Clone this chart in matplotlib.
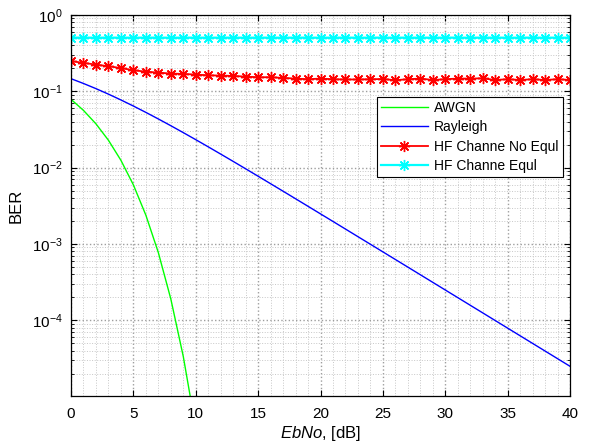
import matplotlib
matplotlib.use("Agg")
import matplotlib.pyplot as plt
from matplotlib.ticker import LogLocator, MultipleLocator, NullFormatter

plt.rcParams['font.family'] = ['Liberation Sans', 'DejaVu Sans']
plt.rcParams['mathtext.fontset'] = 'custom'
plt.rcParams['mathtext.rm'] = 'Liberation Sans'
plt.rcParams['mathtext.it'] = 'Liberation Sans:italic'
plt.rcParams['mathtext.default'] = 'rm'

# Eb/No axis in dB
ebno_db = list(range(0, 41))

# BPSK over AWGN
ebno_awgn = list(range(0, 11))
ber_awgn = [7.865e-2, 5.628e-2, 3.751e-2, 2.288e-2, 1.250e-2, 5.954e-3,
            2.388e-3, 7.727e-4, 1.909e-4, 3.363e-5, 3.872e-6]

# BPSK over flat Rayleigh fading
ber_rayleigh = [0.14645, 0.12673, 0.10849, 0.09191, 0.07714, 0.06418, 0.05300,
                0.04347, 0.03546, 0.02878, 0.02327, 0.01875, 0.01506, 0.01208,
                0.009664, 0.007722, 0.006163, 0.004915, 0.003916, 0.003118,
                0.002481, 0.001974, 0.001570, 0.001248, 0.0009923, 0.0007887,
                0.0006268, 0.0004981, 0.0003958, 0.0003145, 0.0002498,
                0.0001985, 0.0001577, 0.0001253, 0.0000995, 0.00007904,
                0.00006279, 0.00004987, 0.00003962, 0.00003147, 0.00002500]

# HF channel, no equalisation
ber_hf_noeq = [0.249, 0.236, 0.224, 0.213, 0.202, 0.189, 0.181, 0.176, 0.171,
               0.169, 0.166, 0.162, 0.161, 0.159, 0.156, 0.153, 0.153, 0.150,
               0.147, 0.144, 0.147, 0.144, 0.143, 0.143, 0.144, 0.145, 0.140,
               0.144, 0.147, 0.141, 0.144, 0.147, 0.147, 0.148, 0.141, 0.144,
               0.141, 0.144, 0.141, 0.144, 0.141]

# HF channel, with equalisation
ber_hf_eq = [0.505, 0.505, 0.504, 0.505, 0.505, 0.504, 0.505, 0.505, 0.504,
             0.505, 0.505, 0.504, 0.505, 0.505, 0.504, 0.505, 0.505, 0.504,
             0.505, 0.505, 0.504, 0.505, 0.505, 0.504, 0.505, 0.505, 0.504,
             0.505, 0.505, 0.504, 0.505, 0.505, 0.504, 0.505, 0.505, 0.504,
             0.505, 0.505, 0.504, 0.505, 0.505]

# eight-armed asterisk marker
asterisk = (8, 2, 0)

fig = plt.figure(figsize=(5.95, 4.43), dpi=100)
ax = fig.add_axes([71 / 595, 1 - 396 / 443, 499 / 595, 381 / 443])

ax.semilogy(ebno_awgn, ber_awgn, color=(0, 1, 0), lw=1.0, label='AWGN')
ax.semilogy(ebno_db, ber_rayleigh, color=(0, 0, 1), lw=1.0, label='Rayleigh')
ax.semilogy(ebno_db, ber_hf_noeq, color=(1, 0, 0), lw=1.3, marker=asterisk,
            markersize=8, markeredgewidth=1.0, label='HF Channe No Equl')
ax.semilogy(ebno_db, ber_hf_eq, color=(0, 1, 1), lw=1.6, marker=asterisk,
            markersize=8, markeredgewidth=1.0, label='HF Channe Equl')

ax.set_xlim(0, 40)
ax.set_ylim(1.02e-5, 1)
ax.xaxis.set_major_locator(MultipleLocator(5))
ax.xaxis.set_minor_locator(MultipleLocator(1))
ax.yaxis.set_major_locator(LogLocator(base=10, numticks=10))
ax.yaxis.set_minor_locator(LogLocator(base=10, subs=range(2, 10), numticks=20))
ax.yaxis.set_minor_formatter(NullFormatter())

ax.tick_params(which='both', direction='in', top=True, right=True,
               labelsize=11, color='black')
ax.tick_params(which='major', length=4, width=0.8)
ax.tick_params(axis='x', which='major', pad=8)
ax.tick_params(axis='y', which='major', pad=6)
ax.tick_params(axis='y', which='minor', length=2, width=0.6)
ax.tick_params(axis='x', which='minor', length=0)

ax.grid(True, which='major', color=(0.62, 0.62, 0.62), linestyle=':', linewidth=1.0)
ax.grid(True, which='minor', color=(0.78, 0.78, 0.78), linestyle=':', linewidth=0.7)
ax.set_axisbelow(True)
for s in ax.spines.values():
    s.set_linewidth(0.9)

ax.set_xlabel(r'$\it{EbNo}$, [dB]', fontsize=12, labelpad=2)
ax.set_ylabel('BER', fontsize=12, labelpad=6)

leg = ax.legend(loc='upper right', bbox_to_anchor=(0.986, 0.785), fontsize=10,
                frameon=True, fancybox=False, edgecolor='black', framealpha=1,
                handlelength=3.4, handletextpad=0.45, labelspacing=0.38,
                borderpad=0.3, borderaxespad=0)
leg.get_frame().set_linewidth(0.8)

fig.savefig('out.png', dpi=100)
